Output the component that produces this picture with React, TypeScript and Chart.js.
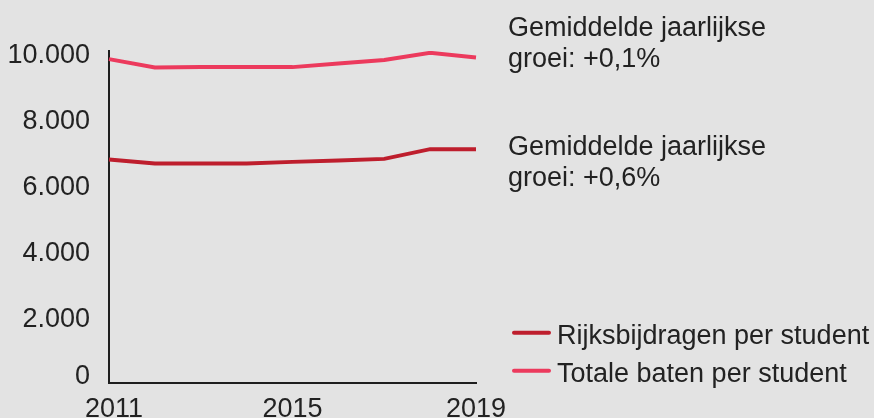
import React, { useEffect, useRef } from 'react';
import { Chart, registerables } from 'chart.js';

Chart.register(...registerables);

const years = ['2011', '2012', '2013', '2014', '2015', '2016', '2017', '2018', '2019'];
const rijksbijdragen = [6780, 6659, 6659, 6659, 6707, 6750, 6798, 7093, 7093];
const totaleBaten = [9824, 9572, 9581, 9587, 9581, 9693, 9794, 10015, 9875];
const yTickValues = [0, 2000, 4000, 6000, 8000, 10000];
const yTickLabels = ['0', '2.000', '4.000', '6.000', '8.000', '10.000'];
const xTickLabels = ['2011', '2015', '2019'];
const seriesNames = ['Rijksbijdragen per student', 'Totale baten per student'];
const annotationTotale = ['Gemiddelde jaarlijkse', 'groei: +0,1%'];
const annotationRijks = ['Gemiddelde jaarlijkse', 'groei: +0,6%'];

const COLOR_RIJKS = '#be1e2d';
const COLOR_TOTALE = '#ec3a5d';
const TEXT = '#222222';
const FONT = '27px "Liberation Sans", Arial, sans-serif';

const overlayPlugin = {
  id: 'overlay',
  afterDraw(chart: any) {
    const ctx = chart.ctx as CanvasRenderingContext2D;
    const y = chart.scales.y;
    const x = chart.scales.x;
    const area = chart.chartArea;
    ctx.save();
    ctx.font = FONT;
    ctx.fillStyle = TEXT;
    ctx.textBaseline = 'alphabetic';

    // y tick labels
    ctx.textAlign = 'right';
    yTickValues.forEach((v, i) => {
      const py = y.getPixelForValue(v);
      const base = v === 0 ? py + 0.5 : py + 9.5;
      ctx.fillText(yTickLabels[i], area.left - 19, base);
    });

    // x tick labels
    ctx.textAlign = 'center';
    xTickLabels.forEach((lab, i) => {
      const idx = years.indexOf(lab);
      const px = x.getPixelForValue(idx) + (i === 0 ? 5 : 0);
      ctx.fillText(lab, px, area.bottom + 33.5);
    });

    // annotations
    ctx.textAlign = 'left';
    ctx.fillText(annotationTotale[0], 508, 36);
    ctx.fillText(annotationTotale[1], 508, 66.7);
    ctx.fillText(annotationRijks[0], 508, 155);
    ctx.fillText(annotationRijks[1], 508, 185.7);

    // legend
    const legendColors = [COLOR_RIJKS, COLOR_TOTALE];
    const legendY = [332.7, 370.7];
    seriesNames.forEach((name, i) => {
      ctx.strokeStyle = legendColors[i];
      ctx.lineWidth = 4;
      ctx.lineCap = 'round';
      ctx.beginPath();
      ctx.moveTo(514, legendY[i]);
      ctx.lineTo(549, legendY[i]);
      ctx.stroke();
      ctx.fillStyle = TEXT;
      ctx.fillText(name, 557, legendY[i] + 11.5);
    });
    ctx.restore();
  },
};

export default function App() {
  const ref = useRef<HTMLCanvasElement | null>(null);

  useEffect(() => {
    if (!ref.current) return;
    const chart = new Chart(ref.current, {
      type: 'line',
      data: {
        labels: years,
        datasets: [
          {
            label: seriesNames[0],
            data: rijksbijdragen,
            borderColor: COLOR_RIJKS,
            borderWidth: 4,
            pointRadius: 0,
            tension: 0,
            fill: false,
          },
          {
            label: seriesNames[1],
            data: totaleBaten,
            borderColor: COLOR_TOTALE,
            borderWidth: 4,
            pointRadius: 0,
            tension: 0,
            fill: false,
          },
        ],
      },
      options: {
        animation: false,
        responsive: false,
        maintainAspectRatio: false,
        events: [],
        layout: { padding: { left: 109, top: 51, right: 398, bottom: 35 } },
        plugins: {
          legend: { display: false },
          tooltip: { enabled: false },
          title: { display: false },
        },
        scales: {
          x: {
            type: 'category',
            offset: false,
            grid: { display: false, drawTicks: false },
            border: { display: true, color: '#1e1e1e', width: 2 },
            ticks: { display: false },
          },
          y: {
            min: 0,
            max: 10070,
            grid: { display: false, drawTicks: false },
            border: { display: true, color: '#1e1e1e', width: 2 },
            ticks: { display: false },
          },
        },
      },
      plugins: [overlayPlugin],
    });
    return () => chart.destroy();
  }, []);

  return (
    <div
      style={{
        position: 'fixed',
        left: 0,
        top: 0,
        width: 874,
        height: 418,
        background: '#e3e3e3',
        overflow: 'hidden',
      }}
    >
      <canvas ref={ref} width={874} height={418} style={{ display: 'block', width: 874, height: 418 }} />
    </div>
  );
}
